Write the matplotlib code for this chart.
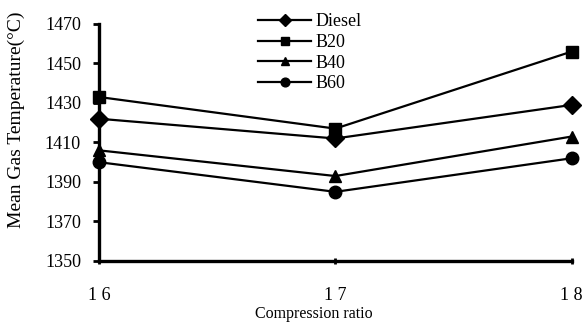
import matplotlib
matplotlib.use('Agg')
import matplotlib.pyplot as plt

plt.rcParams['font.family'] = ['Liberation Serif', 'DejaVu Serif']

ratio = [16, 17, 18]
tick_labels = ['1 6', '1 7', '1 8']
diesel = [1422, 1412, 1429]
b20 = [1433, 1417, 1456]
b40 = [1406, 1393, 1413]
b60 = [1400, 1385, 1402]

fig = plt.figure(figsize=(5.84, 3.23), dpi=100)
ax = fig.add_axes([0.1695, 0.192, 0.8095, 0.734])

ax.plot(ratio, diesel, 'k-', marker='D', markersize=9, lw=1.6, label='Diesel', clip_on=False)
ax.plot(ratio, b20, 'k-', marker='s', markersize=9, lw=1.6, label='B20', clip_on=False)
ax.plot(ratio, b40, 'k-', marker='^', markersize=9, lw=1.6, label='B40', clip_on=False)
ax.plot(ratio, b60, 'k-', marker='o', markersize=9, lw=1.6, label='B60', clip_on=False)

ax.set_xlim(16, 18)
ax.set_ylim(1350, 1470)
ax.set_yticks(range(1350, 1471, 20))
ax.set_xticks(ratio)
ax.set_xticklabels(tick_labels)

for s in ['top', 'right']:
    ax.spines[s].set_visible(False)
for s in ['left', 'bottom']:
    ax.spines[s].set_linewidth(2.4)

ax.tick_params(axis='y', direction='out', length=4, width=2, labelsize=13, pad=9)
ax.tick_params(axis='x', direction='inout', length=5, width=2, labelsize=13, pad=16)

ax.set_xlabel('Compression ratio', fontsize=11.5)
ax.xaxis.set_label_coords(0.4545, -0.19)
ax.set_ylabel('Mean Gas Temperature(°C)', fontsize=14)
ax.yaxis.set_label_coords(-0.156, 0.595)

ax.legend(loc='upper left', bbox_to_anchor=(0.318, 1.082), frameon=False,
          fontsize=13, markerscale=0.7, handlelength=2.9, handletextpad=0.25,
          labelspacing=0.2, borderpad=0)

plt.savefig('out.png', dpi=100)
